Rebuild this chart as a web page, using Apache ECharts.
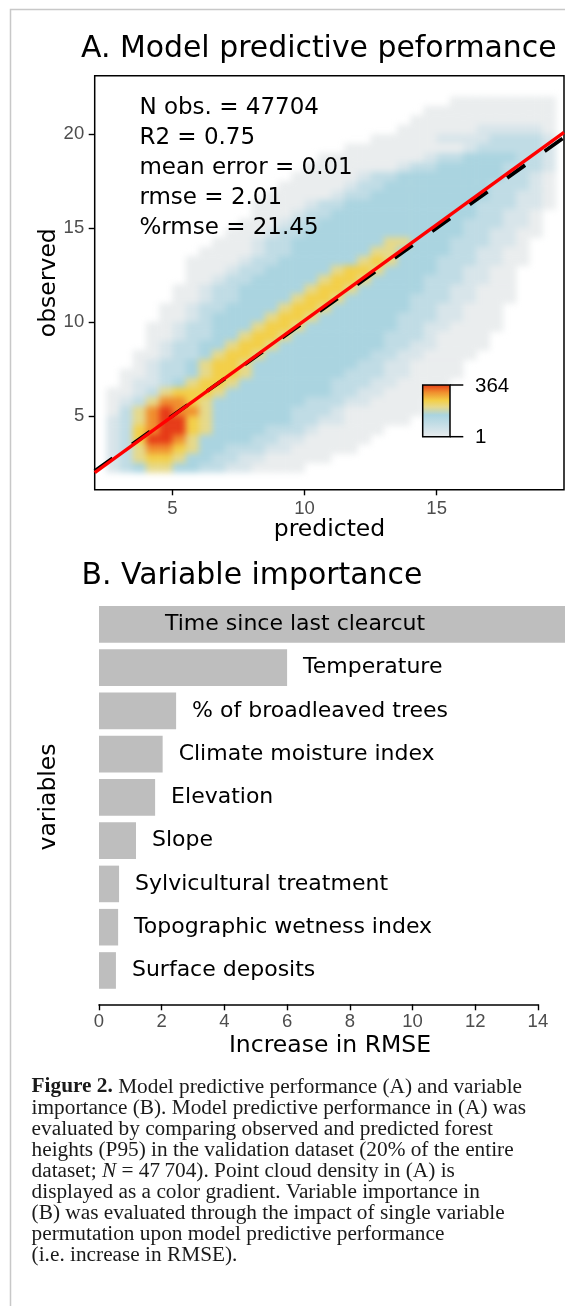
<!DOCTYPE html>
<html><head><meta charset="utf-8">
<script src="https://cdn.jsdelivr.net/npm/echarts@6/dist/echarts.min.js"></script>
<style>
html,body{margin:0;padding:0;background:#fff;}
#page{position:relative;width:565px;height:1306px;overflow:hidden;background:#fff;}
#densClip{position:absolute;left:94.7px;top:75.7px;width:469.3px;height:414.1px;overflow:hidden;}
#dens{position:absolute;left:-94.7px;top:-75.7px;width:565px;height:520px;filter:blur(3px);}
#main{position:absolute;left:0;top:0;width:565px;height:1306px;}
</style></head><body>
<div id="page"><div id="densClip"><div id="dens"></div></div><div id="main"></div></div>
<script>
// ---------- Panel A data ----------
const predictedRange = [2.06, 19.82];
const observedRange = [1.06, 23.11];
const predictedTicks = [5, 10, 15];
const observedTicks = [5, 10, 15, 20];
// density raster: 0.5-unit cells,
// columns centred on predicted = 2.75, 3.25 ... 19.25, rows on observed = 21.75, 21.25 ... 2.25
const densityColumnStart = 2.75;
const densityRowStart = 21.75;
const densityCellSize = 0.5;
const densityRows = [
  "..........................11111111",
  "........................1111111111",
  ".......................11111111111",
  "......................111111222221",
  "....................11111222233332",
  "..................1111111112333332",
  "................111111112334444332",
  "...............1111111233444443332",
  "..............11111233444444443321",
  ".............111112334444444433321",
  "............1111123344444444433221",
  "...........11112334444444444333221",
  "...........1112334444444444433221.",
  "..........11123344444444444333221.",
  ".........111233444444444444332211.",
  "........111233444444455444333221..",
  ".......1111233444444554444332211..",
  "......11112334444445654443332211..",
  "......1112334444456654444332211...",
  "......1123344444566544443332211...",
  ".....11233444445665444443322111...",
  ".....11233444456654444433322111...",
  "....11233444456654444443322111....",
  "....11234444566544444433322111....",
  "...112334445665444444433221111....",
  "...11233445665444444433321111.....",
  "...12334456654444444433221111.....",
  "..11233456654444444433221111......",
  "..1233456654444444433221111.......",
  ".11233456654444444333221111.......",
  ".1223456654444444333221111........",
  "1123566654444444433221111.........",
  "123577654444444333221111..........",
  "135787754444443332111111..........",
  "23578865444444332211111...........",
  "236788654444333211111.............",
  "23688754444332211111..............",
  "2357765443332211111...............",
  "23566544332211111.................",
  "234554433221111..................."
];
const densityLevelCodes = ['1', '2', '3', '4', '5', '6', '7', '8'];
const densityLevelCounts = [1, 2, 5, 12, 30, 60, 150, 364];
const legendTicks = [1, 364];
const oneToOneLine = [[2.06, 2.06], [19.82, 19.82]];
const fitLine = [[2.06, 1.97], [19.82, 20.09]];
const statLines = ['N obs. = 47704', 'R2 = 0.75', 'mean error = 0.01', 'rmse = 2.01', '%rmse = 21.45'];

// ---------- Panel B data ----------
const variables = ['Time since last clearcut', 'Temperature', '% of broadleaved trees', 'Climate moisture index',
  'Elevation', 'Slope', 'Sylvicultural treatment', 'Topographic wetness index', 'Surface deposits'];
const rmseIncrease = [15.0, 6.0, 2.46, 2.03, 1.79, 1.18, 0.64, 0.61, 0.54];
const rmseAxis = [0, 14, 2];

const captionLines = [
  '{b|Figure 2.} Model predictive performance (A) and variable',
  'importance (B). Model predictive performance in (A) was',
  'evaluated by comparing observed and predicted forest',
  'heights (P95) in the validation dataset (20% of the entire',
  'dataset; {i|N} = 47\u2009704). Point cloud density in (A) is',
  'displayed as a color gradient. Variable importance in',
  '(B) was evaluated through the impact of single variable',
  'permutation upon model predictive performance',
  '(i.e. increase in RMSE).'
];

// ---------- styles ----------
const levelColors = ['#eaedee', '#d8e5ea', '#c0dce5', '#aad4e0', '#e6d98a', '#f3cf48', '#f08e2e', '#e63a17'];
const SANS = 'DejaVu Sans';
const NUM = 'Liberation Sans';
const TICKGRAY = '#4d4d4d';
const gridA = { left: 94.7, top: 75.7, width: 469.3, height: 414.1 };
const gridB = { left: 99, top: 602.7, width: 438.9, height: 389.4 };

// ---------- density layer ----------
const densityData = [];
densityRows.forEach((row, r) => {
  for (let c = 0; c < row.length; c++) {
    const k = densityLevelCodes.indexOf(row[c]);
    if (k < 0) continue;
    densityData.push([densityColumnStart + c * densityCellSize, densityRowStart - r * densityCellSize, densityLevelCounts[k]]);
  }
});
const dens = echarts.init(document.getElementById('dens'), null, { renderer: 'canvas' });
dens.setOption({
  animation: false,
  grid: Object.assign({ containLabel: false, outerBoundsMode: 'none' }, gridA),
  xAxis: { type: 'value', min: predictedRange[0], max: predictedRange[1], show: false },
  yAxis: { type: 'value', min: observedRange[0], max: observedRange[1], show: false },
  visualMap: {
    type: 'piecewise', show: false, dimension: 2, seriesIndex: 0,
    pieces: densityLevelCounts.map((c, i) => ({ value: c, color: levelColors[i] }))
  },
  series: [{
    type: 'custom',
    data: densityData,
    encode: { x: 0, y: 1 },
    renderItem: function (params, api) {
      const x = api.value(0), y = api.value(1), h = densityCellSize / 2;
      const p0 = api.coord([x - h, y + h]);
      const p1 = api.coord([x + h, y - h]);
      return {
        type: 'rect',
        shape: { x: p0[0], y: p0[1], width: p1[0] - p0[0] + 0.5, height: p1[1] - p0[1] + 0.5 },
        style: { fill: api.visual('color') }
      };
    }
  }]
});

// ---------- legend gradient ----------
const logMax = Math.log(densityLevelCounts[densityLevelCounts.length - 1]);
const legendStops = densityLevelCounts.map((c, i) => ({ offset: 1 - Math.log(c) / logMax, color: levelColors[i] })).reverse();
const LEG = { x: 422.7, y: 385, w: 27.3, h: 51.7 };

// ---------- main chart ----------
const chart = echarts.init(document.getElementById('main'), null, { renderer: 'canvas' });
const barData = rmseIncrease.map((v, i) => {
  const item = { value: v, name: variables[i] };
  if (i === 0) item.label = { position: 'insideLeft', distance: 66 };
  return item;
});

const textCommon = { fill: '#000', fontFamily: SANS };
chart.setOption({
  animation: false,
  backgroundColor: 'transparent',
  grid: [
    Object.assign({ show: true, borderColor: '#000', borderWidth: 1.5, backgroundColor: 'transparent', containLabel: false, outerBoundsMode: 'none' }, gridA),
    Object.assign({ containLabel: false, outerBoundsMode: 'none' }, gridB)
  ],
  xAxis: [
    {
      gridIndex: 0, type: 'value', min: predictedRange[0], max: predictedRange[1],
      axisLine: { show: false },
      axisTick: { show: true, length: 5.5, customValues: predictedTicks, lineStyle: { color: '#000', width: 1.4 } },
      axisLabel: { customValues: predictedTicks, color: TICKGRAY, fontSize: 18.5, fontFamily: NUM, margin: 9.5 },
      splitLine: { show: false }
    },
    {
      gridIndex: 1, type: 'value', min: rmseAxis[0], max: rmseAxis[1], interval: rmseAxis[2], offset: 12.2,
      axisLine: { show: true, lineStyle: { color: '#000', width: 1.5 } },
      axisTick: { show: true, length: 6, lineStyle: { color: '#000', width: 1.4 } },
      axisLabel: { color: TICKGRAY, fontSize: 18.5, fontFamily: NUM, margin: 8.3 },
      splitLine: { show: false }
    }
  ],
  yAxis: [
    {
      gridIndex: 0, type: 'value', min: observedRange[0], max: observedRange[1],
      axisLine: { show: false },
      axisTick: { show: true, length: 6, customValues: observedTicks, lineStyle: { color: '#000', width: 1.4 } },
      axisLabel: { customValues: observedTicks, color: TICKGRAY, fontSize: 18.5, fontFamily: NUM, margin: 10.5 },
      splitLine: { show: false }
    },
    {
      gridIndex: 1, type: 'category', data: variables, inverse: true, show: false
    }
  ],
  series: [
    {
      type: 'line', xAxisIndex: 0, yAxisIndex: 0, data: oneToOneLine, symbol: 'none', silent: true,
      lineStyle: { color: '#000', width: 3.8, type: [22, 24] }, z: 2
    },
    {
      type: 'line', xAxisIndex: 0, yAxisIndex: 0, data: fitLine, symbol: 'none', silent: true,
      lineStyle: { color: '#ff0000', width: 3.4 }, z: 3
    },
    {
      type: 'bar', xAxisIndex: 1, yAxisIndex: 1, data: barData, barWidth: 36.6, clip: false, silent: true,
      itemStyle: { color: '#bebebe' },
      label: { show: true, position: 'right', distance: 16, formatter: '{b}', color: '#000', fontSize: 22, fontFamily: SANS }
    }
  ],
  graphic: [
    { type: 'rect', silent: true, z: -10, shape: { x: 10.5, y: 9.5, width: 800, height: 1500 },
      style: { fill: 'none', stroke: '#c8c8c8', lineWidth: 1.5 } },
    { type: 'text', x: 81, y: 48.9, style: Object.assign({ text: 'A. Model predictive peformance', fontSize: 29.9, align: 'left', verticalAlign: 'middle' }, textCommon) },
    { type: 'text', x: 81.5, y: 576.4, style: Object.assign({ text: 'B. Variable importance', fontSize: 29.9, align: 'left', verticalAlign: 'middle' }, textCommon) },
    { type: 'text', x: 139.4, y: 93, style: Object.assign({ text: statLines.join('\n'), fontSize: 23, lineHeight: 30, align: 'left', verticalAlign: 'top' }, textCommon) },
    { type: 'text', x: 329.5, y: 529.9, style: Object.assign({ text: 'predicted', fontSize: 23.5, align: 'center', verticalAlign: 'middle' }, textCommon) },
    { type: 'text', x: 48.7, y: 282.7, rotation: Math.PI / 2, style: Object.assign({ text: 'observed', fontSize: 23.5, align: 'center', verticalAlign: 'middle' }, textCommon) },
    { type: 'text', x: 48.7, y: 797, rotation: Math.PI / 2, style: Object.assign({ text: 'variables', fontSize: 23.5, align: 'center', verticalAlign: 'middle' }, textCommon) },
    { type: 'text', x: 330, y: 1045.9, style: Object.assign({ text: 'Increase in RMSE', fontSize: 23.5, align: 'center', verticalAlign: 'middle' }, textCommon) },
    // colour bar legend
    { type: 'rect', shape: { x: LEG.x, y: LEG.y, width: LEG.w, height: LEG.h },
      style: { fill: { type: 'linear', x: 0, y: 0, x2: 0, y2: 1, colorStops: legendStops }, stroke: '#000', lineWidth: 1.5 } },
    { type: 'line', shape: { x1: LEG.x + LEG.w, y1: LEG.y, x2: LEG.x + LEG.w + 13.3, y2: LEG.y }, style: { stroke: '#000', lineWidth: 1.5 } },
    { type: 'line', shape: { x1: LEG.x + LEG.w, y1: LEG.y + LEG.h, x2: LEG.x + LEG.w + 13.3, y2: LEG.y + LEG.h }, style: { stroke: '#000', lineWidth: 1.5 } },
    { type: 'text', x: 475, y: 386.7, style: { text: String(legendTicks[1]), fontSize: 20.5, fontFamily: NUM, fill: '#000', align: 'left', verticalAlign: 'middle' } },
    { type: 'text', x: 475, y: 437.5, style: { text: String(legendTicks[0]), fontSize: 20.5, fontFamily: NUM, fill: '#000', align: 'left', verticalAlign: 'middle' } },
    // caption
    { type: 'text', x: 31.6, y: 1076.4, style: {
        text: captionLines.join('\n'), fontSize: 21.3, lineHeight: 21, fontFamily: 'Liberation Serif', fill: '#1a1a1a',
        align: 'left', verticalAlign: 'top',
        rich: {
          b: { fontWeight: 'bold', fontSize: 21.3, lineHeight: 21, fontFamily: 'Liberation Serif', fill: '#1a1a1a' },
          i: { fontStyle: 'italic', fontSize: 21.3, lineHeight: 21, fontFamily: 'Liberation Serif', fill: '#1a1a1a' }
        }
      } }
  ]
});
</script></body></html>
